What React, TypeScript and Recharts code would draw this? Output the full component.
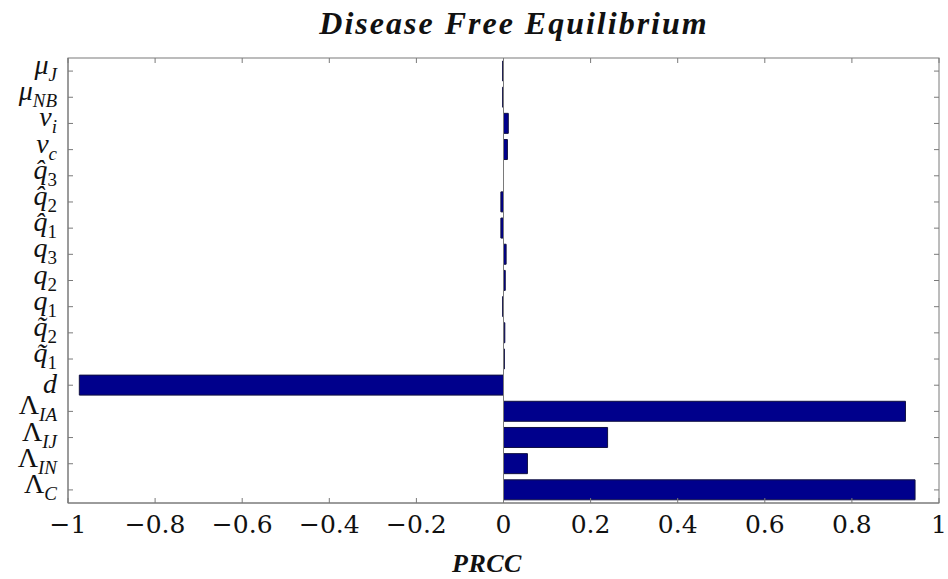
import React from 'react';
import { BarChart, Bar, XAxis, YAxis, ReferenceLine } from 'recharts';

// Parameters, top to bottom
const params = ['muJ', 'muNB', 'nui', 'nuc', 'qh3', 'qh2', 'qh1', 'q3', 'q2', 'q1', 'qt2', 'qt1', 'd', 'LIA', 'LIJ', 'LIN', 'LC'];
const symbols = ['μ', 'μ', 'ν', 'ν', 'q\u0302', 'q\u0302', 'q\u0302', 'q', 'q', 'q', 'q\u0303', 'q\u0303', 'd', 'Λ', 'Λ', 'Λ', 'Λ'];
const subscripts = ['J', 'NB', 'i', 'c', '3', '2', '1', '3', '2', '1', '2', '1', '', 'IA', 'IJ', 'IN', 'C'];
const prccValues = [-0.002, -0.002, 0.011, 0.009, 0, -0.006, -0.006, 0.006, 0.004, -0.002, 0.003, 0.002, -0.974, 0.923, 0.239, 0.055, 0.945];

const xTicks = [-1, -0.8, -0.6, -0.4, -0.2, 0, 0.2, 0.4, 0.6, 0.8, 1];

const data = params.map((name, i) => ({ name, prcc: prccValues[i] }));

// Layout
const W = 948;
const H = 579;
const MARGIN = { top: 58, right: 9, bottom: 36, left: 8 };
const Y_AXIS_W = 60;
const X_AXIS_H = 40;
const PLOT_L = MARGIN.left + Y_AXIS_W;
const PLOT_T = MARGIN.top;
const PLOT_W = W - MARGIN.right - PLOT_L;
const PLOT_H = H - MARGIN.bottom - X_AXIS_H - PLOT_T;

const LABEL_FONT = '"Liberation Serif", "DejaVu Serif", serif';
const NUM_FONT = '"DejaVu Serif", "Liberation Serif", serif';
const AXIS = '#7a7a7a';
const TICK = 5;

const fmt = (v: number) => (v < 0 ? '\u2212' + String(Math.abs(v)) : String(v));

// Bottom tick: inward tick at bottom and mirrored one at the top edge, plus label
const BottomTick = (props: any) => {
  const { x, y, payload } = props;
  return (
    <g>
      <line x1={x} y1={y} x2={x} y2={y - TICK} stroke={AXIS} strokeWidth={1} />
      <line x1={x} y1={y - PLOT_H} x2={x} y2={y - PLOT_H + TICK} stroke={AXIS} strokeWidth={1} />
      <text x={x} y={y + 30} textAnchor="middle" fontFamily={NUM_FONT} fontSize={25} fill="#111">
        {fmt(payload.value)}
      </text>
    </g>
  );
};

const isUpright = (s: string) => s === 'Λ';
const isDigit = (s: string) => /^[0-9]+$/.test(s);

// Left tick: inward tick on both vertical edges, plus the parameter symbol
const LeftTick = (props: any) => {
  const { x, y, payload } = props;
  const i = params.indexOf(payload.value);
  const sym = symbols[i];
  const sub = subscripts[i];
  return (
    <g>
      <line x1={x} y1={y} x2={x + TICK} y2={y} stroke={AXIS} strokeWidth={1} />
      <line x1={x + PLOT_W} y1={y} x2={x + PLOT_W - TICK} y2={y} stroke={AXIS} strokeWidth={1} />
      <text
        x={x - 11}
        y={sub ? y + 3 : y + 8}
        textAnchor="end"
        fontFamily={LABEL_FONT}
        fontSize={28}
        fill="#111"
      >
        <tspan fontStyle={isUpright(sym) ? 'normal' : 'italic'}>{sym}</tspan>
        {sub ? (
          <tspan fontSize={19} dy={7} fontStyle={isDigit(sub) ? 'normal' : 'italic'}>
            {sub}
          </tspan>
        ) : null}
      </text>
    </g>
  );
};

export default function App() {
  return (
    <div style={{ position: 'absolute', left: 0, top: 0, width: W, height: H, background: '#fff' }}>
      <BarChart width={W} height={H} data={data} layout="vertical" margin={MARGIN} barSize={20}>
        <XAxis
          xAxisId="b"
          type="number"
          domain={[-1, 1]}
          ticks={xTicks}
          orientation="bottom"
          height={X_AXIS_H}
          tickSize={0}
          tickMargin={0}
          tickLine={false}
          tick={<BottomTick />}
          axisLine={{ stroke: AXIS }}
          allowDataOverflow
        />
        <YAxis
          yAxisId="l"
          type="category"
          dataKey="name"
          orientation="left"
          width={Y_AXIS_W}
          tickSize={0}
          tickMargin={0}
          tickLine={false}
          tick={<LeftTick />}
          axisLine={{ stroke: AXIS }}
          interval={0}
        />
        <ReferenceLine xAxisId="b" yAxisId="l" x={0} stroke={AXIS} strokeWidth={1} />
        <Bar
          xAxisId="b"
          yAxisId="l"
          dataKey="prcc"
          fill="#00008c"
          stroke="#101040"
          strokeWidth={1}
          isAnimationActive={false}
        />
      </BarChart>
      <svg width={W} height={H} style={{ position: 'absolute', left: 0, top: 0, pointerEvents: 'none' }}>
        <rect x={PLOT_L} y={PLOT_T} width={PLOT_W} height={PLOT_H} fill="none" stroke={AXIS} strokeWidth={1} />
        <text
          x={514}
          y={34}
          textAnchor="middle"
          fontFamily={LABEL_FONT}
          fontSize={32}
          fontWeight="bold"
          fontStyle="italic"
          letterSpacing={2}
          fill="#111"
        >
          Disease Free Equilibrium
        </text>
        <text
          x={487}
          y={572}
          textAnchor="middle"
          fontFamily={LABEL_FONT}
          fontSize={26}
          fontWeight="bold"
          fontStyle="italic"
          letterSpacing={0.5}
          fill="#111"
        >
          PRCC
        </text>
      </svg>
    </div>
  );
}
